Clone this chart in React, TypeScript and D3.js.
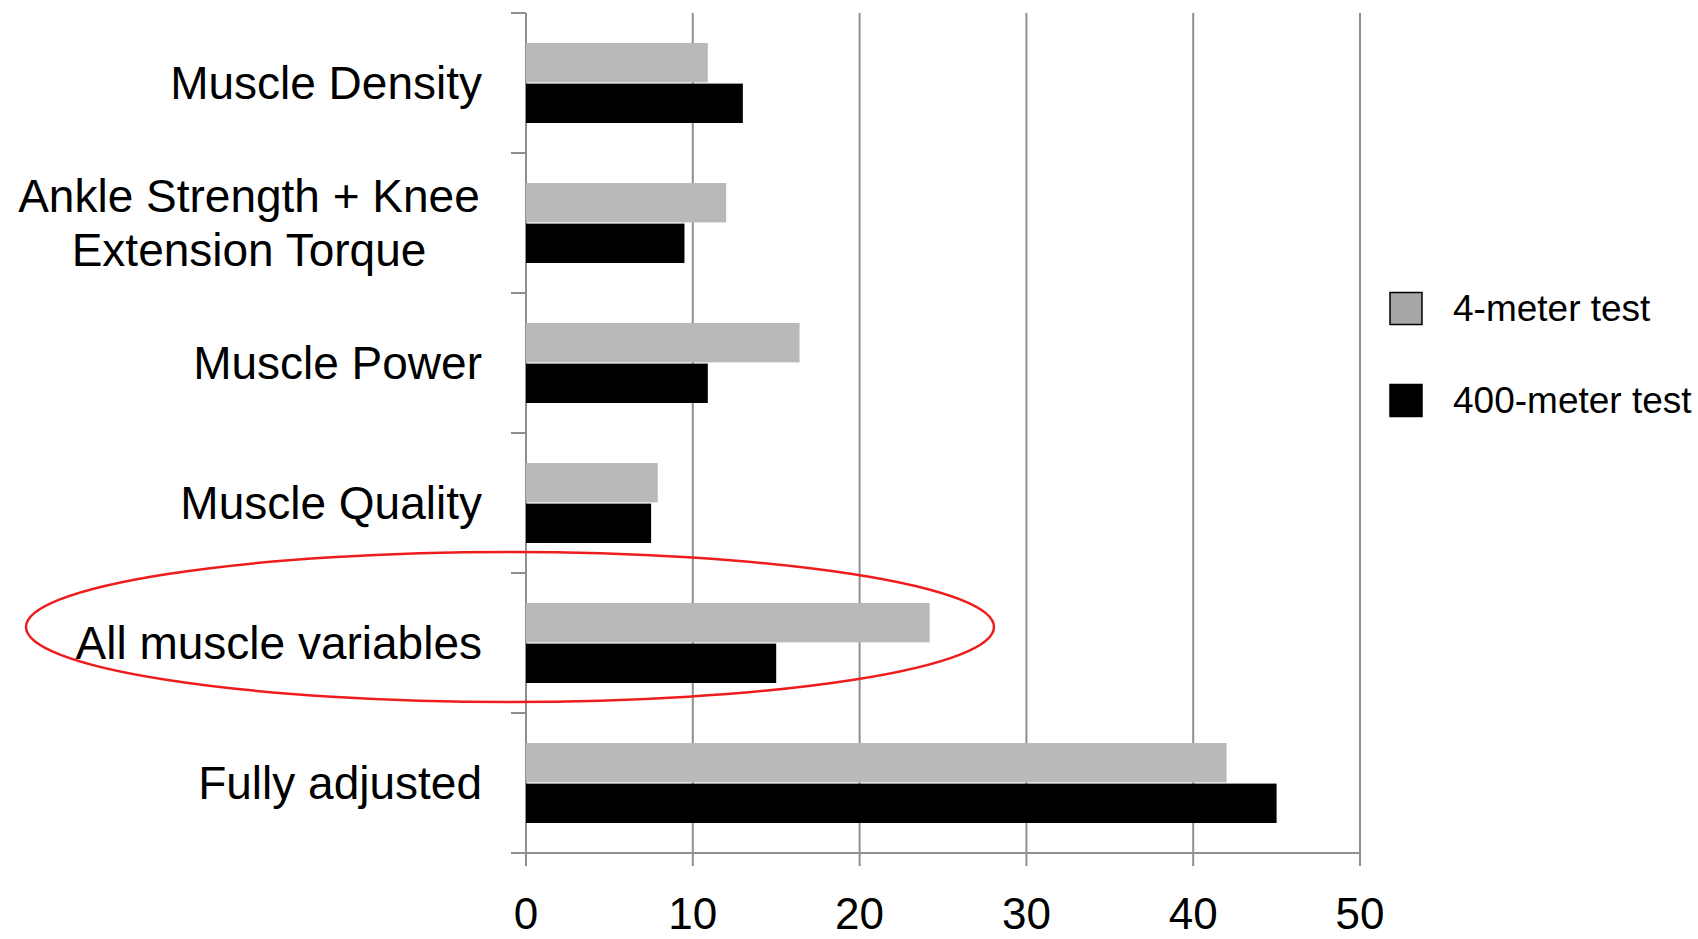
import React from "react";
import * as d3 from "d3";

const categories = [
  "Muscle Density",
  "Ankle Strength + Knee|Extension Torque",
  "Muscle Power",
  "Muscle Quality",
  "All muscle variables",
  "Fully adjusted",
];
const seriesNames = ["4-meter test", "400-meter test"];
const fourMeter = [10.9, 12.0, 16.4, 7.9, 24.2, 42.0];
const fourHundredMeter = [13.0, 9.5, 10.9, 7.5, 15.0, 45.0];
const xTicks = [0, 10, 20, 30, 40, 50];

const W = 1698;
const H = 939;
const left = 526;
const right = 1360;
const top = 13;
const bottom = 853;
const FONT = "Liberation Sans, Arial, sans-serif";
const barColors = ["#b9b9b9", "#000000"];
const legendColors = ["#a6a6a6", "#000000"];

export default function App() {
  const x = d3.scaleLinear().domain([0, 50]).range([left, right]);
  const y = d3
    .scaleBand<string>()
    .domain(categories)
    .range([top, bottom])
    .paddingInner(0.4286)
    .paddingOuter(0.2143);
  const inner = d3
    .scaleBand<string>()
    .domain(seriesNames)
    .range([0, y.bandwidth()])
    .paddingInner(0.03);
  const step = y.step();
  const series = [fourMeter, fourHundredMeter];
  const boundaries = d3.range(categories.length + 1).map((i) => top + i * step);

  return (
    <svg
      width={W}
      height={H}
      style={{ position: "absolute", left: 0, top: 0, background: "#fff" }}
      fontFamily={FONT}
    >
      <rect x={0} y={0} width={W} height={H} fill="#fff" />
      {/* gridlines */}
      {xTicks.map((t) => (
        <line
          key={"g" + t}
          x1={x(t)}
          x2={x(t)}
          y1={top}
          y2={bottom + 13}
          stroke="#8f8f8f"
          strokeWidth={2}
        />
      ))}
      {/* category ticks */}
      {boundaries.map((b, i) => (
        <line
          key={"ct" + i}
          x1={left - 15}
          x2={left}
          y1={b}
          y2={b}
          stroke="#8f8f8f"
          strokeWidth={2}
        />
      ))}
      {/* x axis line */}
      <line x1={left - 15} x2={right} y1={bottom} y2={bottom} stroke="#8f8f8f" strokeWidth={2} />
      {/* bars */}
      {categories.map((c, i) =>
        series.map((s, j) => (
          <rect
            key={c + j}
            x={x(0)}
            y={(y(c) as number) + (inner(seriesNames[j]) as number)}
            width={x(s[i]) - x(0)}
            height={inner.bandwidth()}
            fill={barColors[j]}
          />
        ))
      )}
      {/* category labels */}
      {categories.map((c) => {
        const lines = c.split("|");
        const cy = (y(c) as number) + y.bandwidth() / 2;
        const lh = 54;
        if (lines.length === 1) {
          return (
            <text
              key={"l" + c}
              x={482}
              y={cy}
              textAnchor="end"
              dominantBaseline="central"
              fontSize={46}
              fill="#000"
            >
              {c}
            </text>
          );
        }
        return (
          <text key={"l" + c} textAnchor="middle" fontSize={46} fill="#000">
            {lines.map((ln, k) => (
              <tspan
                key={k}
                x={249}
                y={cy + (k - (lines.length - 1) / 2) * lh}
                dominantBaseline="central"
              >
                {ln}
              </tspan>
            ))}
          </text>
        );
      })}
      {/* x tick labels */}
      {xTicks.map((t) => (
        <text
          key={"t" + t}
          x={x(t)}
          y={929}
          textAnchor="middle"
          fontSize={44}
          fill="#000"
        >
          {t}
        </text>
      ))}
      {/* legend */}
      {seriesNames.map((n, j) => {
        const cy = 308.5 + j * 92;
        return (
          <g key={"lg" + n}>
            <rect
              x={1390}
              y={cy - 16}
              width={32}
              height={32}
              fill={legendColors[j]}
              stroke="#000"
              strokeWidth={1.5}
            />
            <text x={1453} y={cy} dominantBaseline="central" fontSize={37} fill="#000">
              {n}
            </text>
          </g>
        );
      })}
      {/* highlight ellipse */}
      <ellipse
        cx={x(0) - 16}
        cy={(y(categories[4]) as number) + y.bandwidth() / 2 - 16}
        rx={484}
        ry={75}
        fill="none"
        stroke="#ee1c1c"
        strokeWidth={2.5}
      />
    </svg>
  );
}
